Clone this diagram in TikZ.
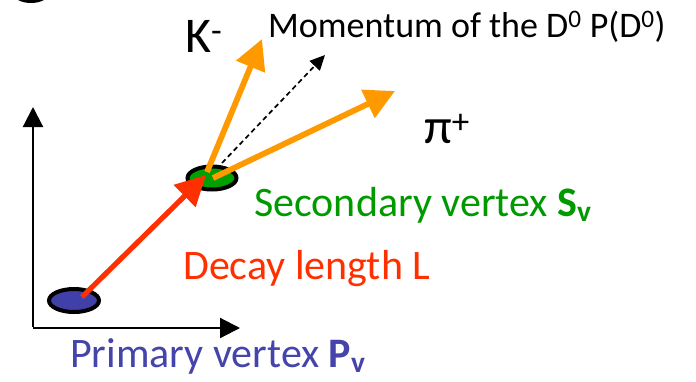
\documentclass[tikz,border=0pt]{standalone}
\usepackage{fontspec}
\setmainfont{Carlito}
\usetikzlibrary{arrows.meta}
\definecolor{orng}{HTML}{FF9900}
\definecolor{redc}{HTML}{FF3000}
\definecolor{grn}{HTML}{009A00}
\definecolor{grnfill}{HTML}{00A000}
\definecolor{blu}{HTML}{4444AA}
\definecolor{blufill}{HTML}{4040A8}
\tikzset{
  axisarrow/.style={line width=2.2pt,-{Triangle[length=20pt,width=20pt]}},
  bigarrow/.style={line width=5.8pt,-{Triangle[length=30pt,width=30pt]}},
  momarrow/.style={line width=1.7pt,dash pattern=on 5pt off 3.5pt,-{Triangle[length=15pt,width=14pt]}},
  lbl/.style={anchor=base west, inner sep=0pt},
}
\begin{document}
\begin{tikzpicture}[x=1pt,y=-1pt]
\useasboundingbox (0,0) rectangle (696,381);
\clip (0,0) rectangle (696,381);
% partial black shape at top-left corner
\fill[black] (31,-8) ellipse [x radius=19, y radius=11];
% axes
\coordinate (origin) at (33,328);
\coordinate (ytip) at (33,107);
\coordinate (xtip) at (240,328);
\draw[axisarrow] ([yshift=1.1pt]origin) -- (ytip);
\draw[axisarrow] (origin) -- (xtip);
% vertices
\fill[blufill] (74,300.5) ellipse [x radius=25, y radius=11.5];
\draw[line width=4pt] (74,300.5) ellipse [x radius=25, y radius=11.5];
\node[inner sep=0pt, minimum size=0pt] (pv) at (74,300.5) {};
\fill[grnfill] (212,178) ellipse [x radius=24.5, y radius=11.5];
\draw[line width=4pt] (212,178) ellipse [x radius=24.5, y radius=11.5];
\node[inner sep=0pt, minimum size=0pt] (sv) at (212,178) {};
% arrow end points
\coordinate (kstart) at (207,172);
\coordinate (ktip) at (262,39);
\coordinate (pistart) at (213,178);
\coordinate (pitip) at (395,91);
\coordinate (dstart) at (222,163);
\coordinate (dtip) at (325,55);
\coordinate (rstart) at (82,297);
\coordinate (rtip) at (206,175);
% momentum direction (dashed)
\draw[momarrow] (dstart) -- (dtip);
% decay products
\draw[bigarrow, orng] (kstart) -- (ktip);
\draw[bigarrow, orng] (pistart) -- (pitip);
% decay length
\draw[bigarrow, redc, line width=5.2pt] (rstart) -- (rtip);
% labels
\node[lbl, font=\fontsize{50}{60}\selectfont] (klbl) at (185,52) {K\textsuperscript{-}};
\node[lbl, font=\fontsize{36}{44}\selectfont] (mlbl) at (268,37) {Momentum of the D\textsuperscript{0} P(D\textsuperscript{0})};
\node[lbl, font=\fontsize{50}{60}\selectfont] (pilbl) at (424,143) {π\textsuperscript{+}};
\node[lbl, font=\fontsize{42}{50}\selectfont, text=grn] (svlbl) at (254,216) {Secondary vertex \textbf{S\textsubscript{v}}};
\node[lbl, font=\fontsize{42}{50}\selectfont, text=redc] (dlbl) at (183,279) {Decay length L};
\node[lbl, font=\fontsize{42}{50}\selectfont, text=blu] (pvlbl) at (70,367) {Primary vertex \textbf{P\textsubscript{v}}};
\end{tikzpicture}
\end{document}
